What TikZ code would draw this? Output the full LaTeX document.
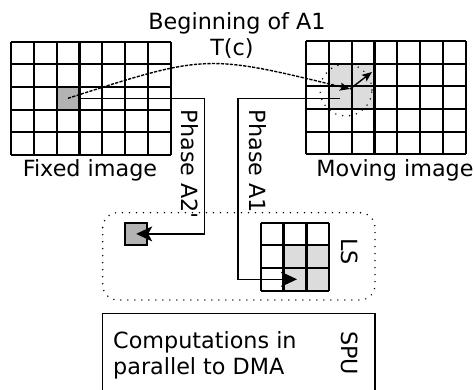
\documentclass[tikz,border=0pt]{standalone}
\usepackage{fontspec}
\setmainfont{DejaVu Sans}[Ligatures=TeXOff]
\usetikzlibrary{arrows.meta}
\definecolor{cellgray}{HTML}{B3B3B3}
\definecolor{lightcell}{HTML}{DCDCDC}
\begin{document}
\begin{tikzpicture}[x=1pt,y=-1pt,
  gridline/.style={line width=2.2pt},
  conn/.style={line width=1.4pt},
  lbl/.style={font=\fontsize{22.3}{26}\selectfont, inner sep=0pt},
  bigtip/.style={-{Stealth[length=16pt,width=15pt,inset=4pt]}},
  smalltip/.style={-{Stealth[length=10pt,width=8pt,inset=2pt]}},
  dotline/.style={line width=1.6pt, line cap=round, dash pattern=on 0pt off 7pt},
  cellbox/.style={minimum width=#1, minimum height=#1, inner sep=0pt, outer sep=0pt},
]
\useasboundingbox (0,0) rectangle (475,390);

% ---------- fixed image ----------
\node[cellbox=22.7pt, fill=cellgray] (src) at (68,98.3) {};
\foreach \i in {0,...,7} \draw[gridline] ({11+\i*22.8},41.7) -- ++(0,113.3);
\foreach \j in {0,...,5} \draw[gridline] (11,{41.7+\j*22.66}) -- ++(159.6,0);
\node[lbl, anchor=base] (fixedlbl) at (90,176.7) {Fixed image};

% ---------- moving image ----------
\node[cellbox=45.4pt, fill=lightcell] (win) at (351.6,86.3) {};
\foreach \i in {0,...,7} \draw[gridline] ({306+\i*22.8},41) -- ++(0,113.3);
\foreach \j in {0,...,5} \draw[gridline] (306,{41+\j*22.66}) -- ++(159.6,0);
\node[lbl, anchor=base] (movinglbl) at (395,176.7) {Moving image};
\node[circle, draw, dotline, minimum size=52pt, inner sep=0pt] (circ) at (346,90) {};

% ---------- title ----------
\node[lbl, anchor=base] (title) at (237,29.5) {Beginning of A1};
\node[lbl, anchor=base] (tc) at (232,55.5) {T(c)};

% ---------- transformation T(c) ----------
\coordinate (tip) at (350,89);
\coordinate (dir) at (372,72);
\draw[conn, dash pattern=on 3.2pt off 1.3pt, smalltip] (src.center) .. controls (206,54) .. (tip);
\draw[conn, smalltip] (tip) -- (dir);

% ---------- local store ----------
\draw[dotline, rounded corners=15pt] (102.7,212.7) rectangle (375,300);
\node[cellbox=22.3pt, fill=cellgray, draw, line width=1.8pt] (lsa) at (136.2,233.9) {};
\fill[lightcell] (283.6,245.4) rectangle (329.3,290.7);
\foreach \i in {0,...,3} \draw[gridline] ({260.7+\i*22.87},222.7) -- ++(0,68);
\foreach \j in {0,...,3} \draw[gridline] (260.7,{222.7+\j*22.67}) -- ++(68.6,0);
\coordinate (lscell) at (297,279.3);
\node[lbl, anchor=base, rotate=-90] (ls) at (341,251.3) {LS};

% ---------- DMA phases ----------
\coordinate (a1start) at (340,98.3);
\draw[conn, bigtip] (src.east) -- (204.5,98.3) |- (lsa.center);
\draw[conn, bigtip] (a1start) -- (238,98.3) |- (lscell);
\node[lbl, anchor=base west, rotate=-90] (pa2) at (181,109.7) {Phase A2'};
\node[lbl, anchor=base west, rotate=-90] (pa1) at (249,109.7) {Phase A1};

% ---------- SPU ----------
\draw[conn] (102.7,396) |- (375,313.3) -- (375,396);
\node[lbl, anchor=base west] (comp1) at (113,348.3) {Computations in};
\node[lbl, anchor=base west] (comp2) at (113,375) {parallel to DMA};
\node[lbl, anchor=base, rotate=-90] (spu) at (341,353.3) {SPU};
\end{tikzpicture}
\end{document}
